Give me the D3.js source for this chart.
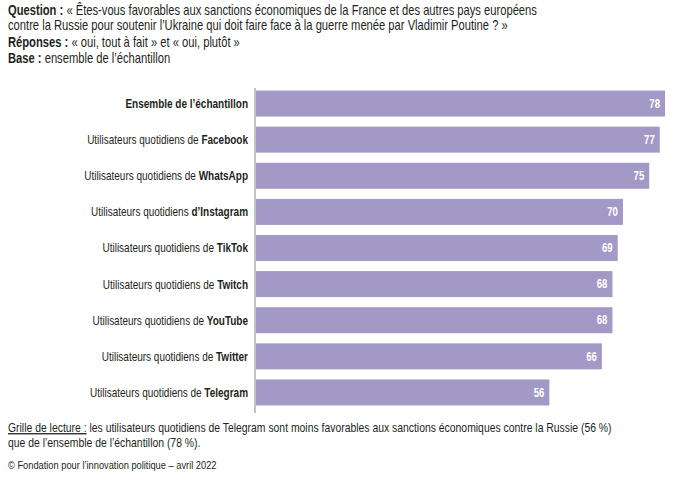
<!DOCTYPE html>
<html>
<head>
<meta charset="utf-8">
<script src="https://cdn.jsdelivr.net/npm/d3@7"></script>
<style>
  body { margin: 0; background: #fff; }
  svg text { font-family: "Liberation Sans", Arial, sans-serif; fill: #231f20; }
</style>
</head>
<body>
<svg id="chart"></svg>
<script>
// Data
const labelPrefix = ["", "Utilisateurs quotidiens de ", "Utilisateurs quotidiens de ", "Utilisateurs quotidiens ",
  "Utilisateurs quotidiens de ", "Utilisateurs quotidiens de ", "Utilisateurs quotidiens de ",
  "Utilisateurs quotidiens de ", "Utilisateurs quotidiens de "];
const labelBold = ["Ensemble de l’échantillon", "Facebook", "WhatsApp", "d’Instagram",
  "TikTok", "Twitch", "YouTube", "Twitter", "Telegram"];
const values = [78, 77, 75, 70, 69, 68, 68, 66, 56];

const headerLines = [
  ["Question :", " « Êtes-vous favorables aux sanctions économiques de la France et des autres pays européens"],
  ["", "contre la Russie pour soutenir l’Ukraine qui doit faire face à la guerre menée par Vladimir Poutine ? »"],
  ["Réponses :", " « oui, tout à fait » et « oui, plutôt »"],
  ["Base :", " ensemble de l’échantillon"]
];
const noteLines = [
  "les utilisateurs quotidiens de Telegram sont moins favorables aux sanctions économiques contre la Russie (56 %)",
  "que de l’ensemble de l’échantillon (78 %)."
];
const source = "© Fondation pour l’innovation politique – avril 2022";

// dimensions
var wtot = 680, htot = 492;
var margin = { top: 88, left: 255 };
var squeeze = 0.8; // condensed look

const svg = d3.select("#chart")
  .attr("width", wtot)
  .attr("height", htot);

// narrow text: place at (x, y) and squeeze horizontally
function narrowText(parent, x, y, size) {
  return parent.append("text")
    .attr("transform", `translate(${x},${y}) scale(${squeeze},1)`)
    .style("font-size", size + "px");
}

// scales
const I = d3.range(values.length);
const xScale = d3.scaleLinear([0, 78], [margin.left, 665]);
const yScale = d3.scaleBand(I, [88, 408]).paddingInner(0.28).paddingOuter(0.07);

// header
const headerY = [15, 30, 47, 63];
headerLines.forEach((l, i) => {
  const t = narrowText(svg, 8, headerY[i], 14);
  t.append("tspan").attr("font-weight", "bold").text(l[0]);
  t.append("tspan").text(l[1]);
});

// bars
svg.append("g")
  .selectAll("rect")
  .data(I)
  .join("rect")
  .attr("x", xScale(0) + 1)
  .attr("y", i => yScale(i))
  .attr("width", i => xScale(values[i]) - xScale(0) - 1)
  .attr("height", yScale.bandwidth())
  .attr("fill", "#a399c6");

// value labels
const valG = svg.append("g");
I.forEach(i => {
  narrowText(valG, xScale(values[i]) - 5, yScale(i) + yScale.bandwidth() / 2, 12)
    .attr("dy", "0.35em")
    .attr("text-anchor", "end")
    .attr("font-weight", "bold")
    .style("fill", "#fff")
    .text(values[i]);
});

// axis line
svg.append("line")
  .attr("x1", margin.left).attr("x2", margin.left)
  .attr("y1", margin.top).attr("y2", 413)
  .attr("stroke", "#9a9a9a")
  .attr("stroke-width", 1.2);

// category labels
const labG = svg.append("g");
I.forEach(i => {
  const t = narrowText(labG, 248, yScale(i) + yScale.bandwidth() / 2, 12.5)
    .attr("dy", "0.35em")
    .attr("text-anchor", "end");
  t.append("tspan").text(labelPrefix[i]);
  t.append("tspan").attr("font-weight", "bold").text(labelBold[i]);
});

// note
const note = narrowText(svg, 8, 432, 13);
note.append("tspan").attr("text-decoration", "underline").text("Grille de lecture :");
note.append("tspan").text(" " + noteLines[0]);
narrowText(svg, 8, 447, 13).text(noteLines[1]);

narrowText(svg, 8, 469, 11.6).text(source);
</script>
</body>
</html>
